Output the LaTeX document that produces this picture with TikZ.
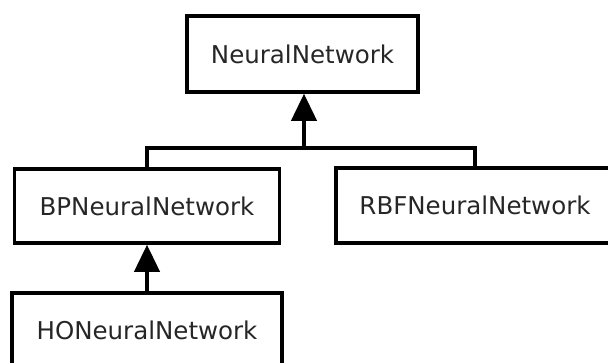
\documentclass[tikz,border=0pt]{standalone}
\usepackage{fontspec}
\setmainfont{DejaVu Sans}
\usetikzlibrary{arrows.meta}
\begin{document}
\begin{tikzpicture}[x=1pt,y=1pt,
  box/.style={draw=black,line width=3.5pt,rectangle,inner sep=0pt},
  lbl/.style={inner sep=0pt,font=\fontsize{24.5}{29}\selectfont,text=black!85},
  cls/.style={box,lbl},
  link/.style={line width=3.5pt},
  inherit/.style={line width=4pt,-{Triangle[length=27pt,width=25pt]}}]
\useasboundingbox (0,0) rectangle (608,-362);
\node[cls,minimum width=231pt,minimum height=76pt] (nn) at (302.5,-54) {NeuralNetwork};
\node[cls,minimum width=265pt,minimum height=74pt] (bp) at (147,-206) {BPNeuralNetwork};
\node[box,minimum width=300pt,minimum height=75pt] (rbfbox) at (486,-205.5) {};
\node[lbl] (rbf) at (475,-205.5) {RBFNeuralNetwork};
\node[cls,minimum width=270pt,minimum height=74pt] (ho) at (147,-330) {HONeuralNetwork};
\coordinate (j) at (304,-148);
\draw[link] (bp.north) |- (j) -| (rbf|-rbfbox.north);
\draw[inherit] (j) -- (j|-nn.south);
\draw[inherit] (ho.north) -- (bp.south);
\end{tikzpicture}
\end{document}
